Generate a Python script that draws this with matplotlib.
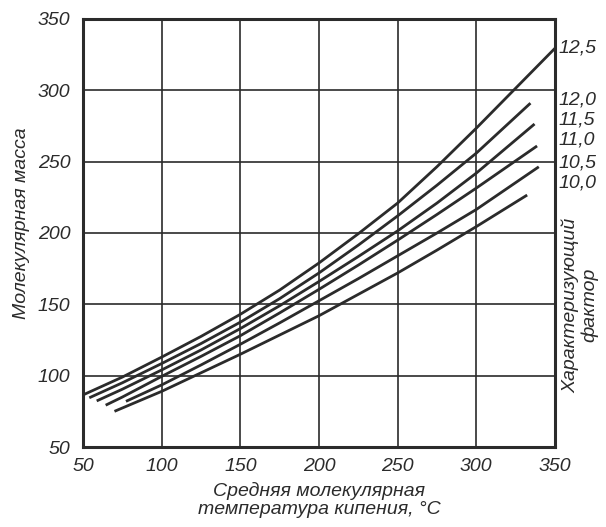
import matplotlib
matplotlib.use("Agg")
import matplotlib.pyplot as plt

plt.rcParams['font.family'] = ['Liberation Sans', 'DejaVu Sans']
plt.rcParams['font.style'] = 'italic'

# характеризующий фактор -> (температура кипения, молекулярная масса)
factors = ["12,5", "12,0", "11,5", "11,0", "10,5", "10,0"]
t_125 = [50, 75, 100, 125, 150, 175, 200, 225, 250, 275, 300, 325, 350]
m_125 = [86.5, 99, 113, 127.5, 143, 160, 179, 199.5, 221, 246.5, 273.5, 301.5, 329.5]
t_120 = [54, 75, 100, 125, 150, 175, 200, 225, 250, 275, 300, 334.4]
m_120 = [84.5, 95, 108.5, 122.5, 137.5, 154, 172, 191.5, 212, 233.5, 256, 291]
t_115 = [58.7, 75, 100, 125, 150, 175, 200, 225, 250, 275, 300, 337]
m_115 = [82.3, 90.5, 104, 118, 133, 149, 166, 183.5, 201.5, 221, 242, 276.4]
t_110 = [64.4, 75, 100, 125, 150, 175, 200, 225, 250, 275, 300, 338.6]
m_110 = [79.3, 85, 99.5, 113.5, 128, 144, 160.5, 177.5, 195, 213, 231.5, 261]
t_105 = [77.3, 100, 125, 150, 175, 200, 225, 250, 275, 300, 339.7]
m_105 = [82, 93.5, 107.5, 122, 137, 152.5, 168, 184, 200, 216.5, 246.4]
t_100 = [70, 100, 125, 150, 175, 200, 225, 250, 275, 300, 332.3]
m_100 = [75, 89, 102, 115, 128.5, 142, 157, 172, 188, 204.5, 226.6]

label_y = [329.5, 293, 279, 265, 249, 235]
ticks = [50, 100, 150, 200, 250, 300, 350]

curves = [(t_125, m_125), (t_120, m_120), (t_115, m_115),
          (t_110, m_110), (t_105, m_105), (t_100, m_100)]

ink = "#2b2b2b"
fig = plt.figure(figsize=(6.06, 5.27), dpi=100)
ax = fig.add_axes([83/606, 1-447/527, (555-83)/606, (447-19)/527])

for t, m in curves:
    ax.plot(t, m, color=ink, lw=2.0, solid_capstyle='butt', solid_joinstyle='round')

ax.set_xlim(50, 350)
ax.set_ylim(50, 350)
ax.set_xticks(ticks)
ax.set_yticks(ticks)
ax.grid(True, color=ink, lw=1.2)
ax.set_axisbelow(True)
ax.tick_params(length=0, labelsize=14, colors=ink)
ax.tick_params(axis='x', pad=8)
ax.tick_params(axis='y', pad=9)
for s in ax.spines.values():
    s.set_color(ink)
    s.set_linewidth(2.2)

for name, y in zip(factors, label_y):
    ax.text(352, y, name, fontsize=14, color=ink, ha='left', va='center', clip_on=False)

fig.text(22/606, 1-223/527, "Молекулярная масса", rotation=90, fontsize=14,
         color=ink, ha='center', va='center')
fig.text(580/606, 1-305/527, "Характеризующий\nфактор", rotation=90, fontsize=14,
         color=ink, ha='center', va='center', multialignment='center', linespacing=1.05)
fig.text(319/606, 1-500/527, "Средняя молекулярная\nтемпература кипения, °C", fontsize=14,
         color=ink, ha='center', va='center', multialignment='center', linespacing=1.1)

fig.savefig("out.png", dpi=100)
